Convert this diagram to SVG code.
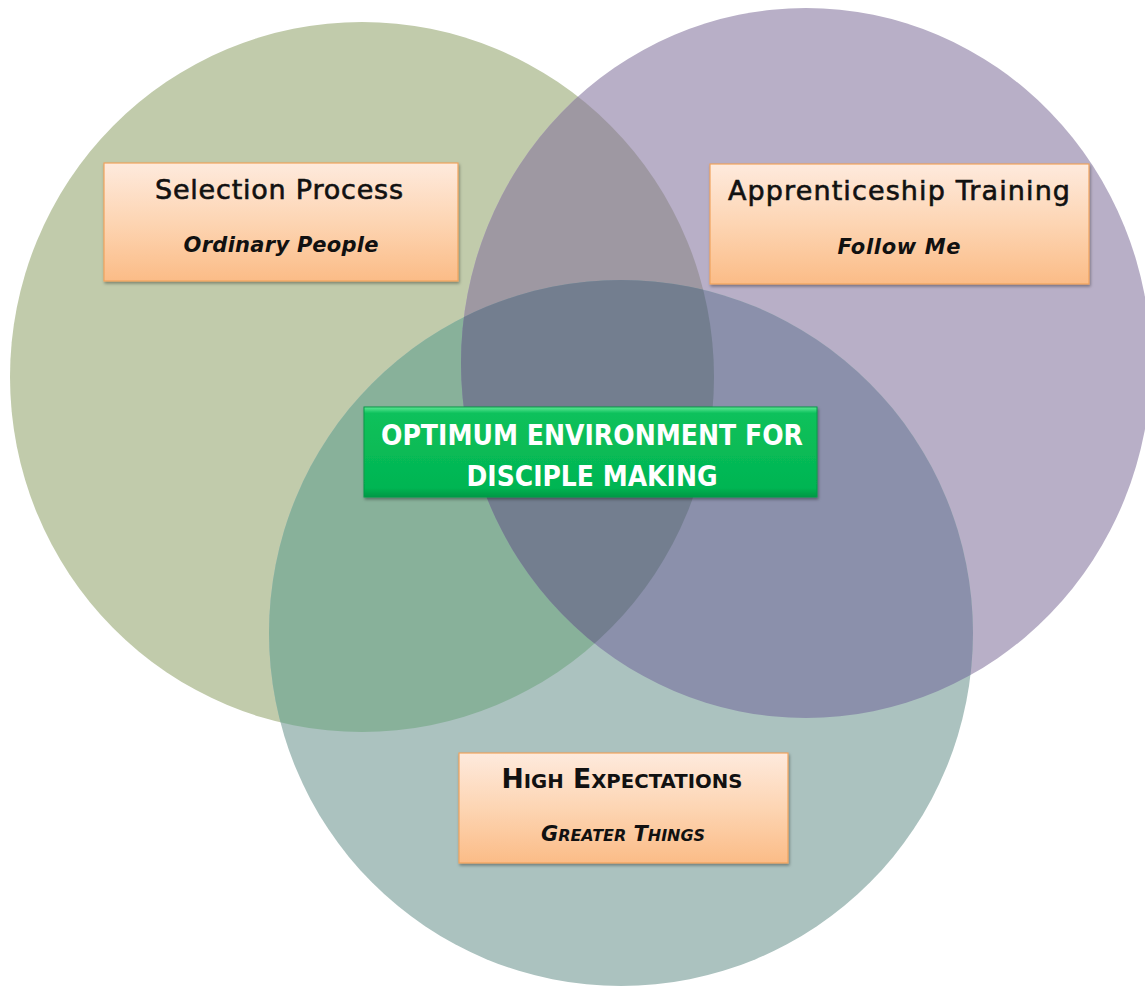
<svg xmlns="http://www.w3.org/2000/svg" width="1145" height="988" viewBox="0 0 1145 988">
<style>
.title{font-family:"DejaVu Sans","Liberation Sans",sans-serif;font-size:27px;fill:#111;stroke:#111;stroke-width:0.6;text-anchor:middle}
.sub{font-family:"DejaVu Sans","Liberation Sans",sans-serif;font-size:21px;font-weight:bold;font-style:italic;fill:#111;text-anchor:middle}
.center{font-family:"DejaVu Sans","Liberation Sans",sans-serif;font-size:29px;font-weight:bold;fill:#fff;text-anchor:middle}
.box{fill:url(#peach);stroke:#f0a35e;stroke-width:1.2;filter:url(#sh)}
</style>
<defs>
<linearGradient id="peach" x1="0" y1="0" x2="0" y2="1">
<stop offset="0" stop-color="#feeadd"/>
<stop offset="0.5" stop-color="#fdd5b3"/>
<stop offset="1" stop-color="#fbbc87"/>
</linearGradient>
<linearGradient id="greenbox" x1="0" y1="0" x2="0" y2="1">
<stop offset="0" stop-color="#5ee896"/>
<stop offset="0.07" stop-color="#0cc15b"/>
<stop offset="0.9" stop-color="#03b552"/>
<stop offset="1" stop-color="#029845"/>
</linearGradient>
<filter id="sh" x="-5%" y="-10%" width="110%" height="125%">
<feDropShadow dx="1" dy="2" stdDeviation="1.5" flood-color="#000" flood-opacity="0.35"/>
</filter>
<ellipse id="cG" cx="362" cy="377" rx="352" ry="355"/>
<ellipse id="cP" cx="806" cy="363" rx="345" ry="355"/>
<ellipse id="cT" cx="621" cy="633" rx="352" ry="353"/>
<clipPath id="clipG"><use href="#cG"/></clipPath>
<clipPath id="clipP"><use href="#cP"/></clipPath>
<clipPath id="clipT"><use href="#cT"/></clipPath>
</defs>
<rect width="1145" height="988" fill="#fff"/>
<g id="circles">
<use href="#cG" fill="#c1cbab"/>
<use href="#cP" fill="#b8afc7"/>
<use href="#cT" fill="#abc2bf"/>
<g clip-path="url(#clipG)">
<use href="#cP" fill="#9e98a2"/>
<use href="#cT" fill="#88b19a"/>
</g>
<g clip-path="url(#clipP)">
<use href="#cT" fill="#8b90ab"/>
</g>
<g clip-path="url(#clipG)">
<g clip-path="url(#clipP)">
<use href="#cT" fill="#737e8f"/>
</g>
</g>
</g>
<g id="node-selection">
<rect class="box" x="104" y="163" width="354" height="118"/>
<text class="title" x="279" y="199" textLength="248">Selection Process</text>
<text class="sub" x="281" y="252" textLength="195">Ordinary People</text>
</g>
<g id="node-apprenticeship">
<rect class="box" x="710" y="164" width="379" height="120"/>
<text class="title" x="899" y="200" textLength="342">Apprenticeship Training</text>
<text class="sub" x="899" y="254" textLength="123">Follow Me</text>
</g>
<g id="node-optimum">
<rect x="364" y="407" width="453" height="90" fill="url(#greenbox)" stroke="#0a9a48" stroke-width="1" filter="url(#sh)"/>
<text class="center" x="592" y="445" textLength="422" lengthAdjust="spacingAndGlyphs">OPTIMUM ENVIRONMENT FOR</text>
<text class="center" x="592" y="486" textLength="251" lengthAdjust="spacingAndGlyphs">DISCIPLE MAKING</text>
</g>
<g id="node-expectations">
<rect class="box" x="459" y="753" width="329" height="110"/>
<text class="title" x="622" y="788" textLength="241" lengthAdjust="spacingAndGlyphs" style="font-weight:bold;stroke-width:0">H<tspan font-size="20">IGH</tspan> E<tspan font-size="20">XPECTATIONS</tspan></text>
<text class="sub" x="623" y="841" textLength="164" lengthAdjust="spacingAndGlyphs">G<tspan font-size="16">REATER</tspan> T<tspan font-size="16">HINGS</tspan></text>
</g>
</svg>
